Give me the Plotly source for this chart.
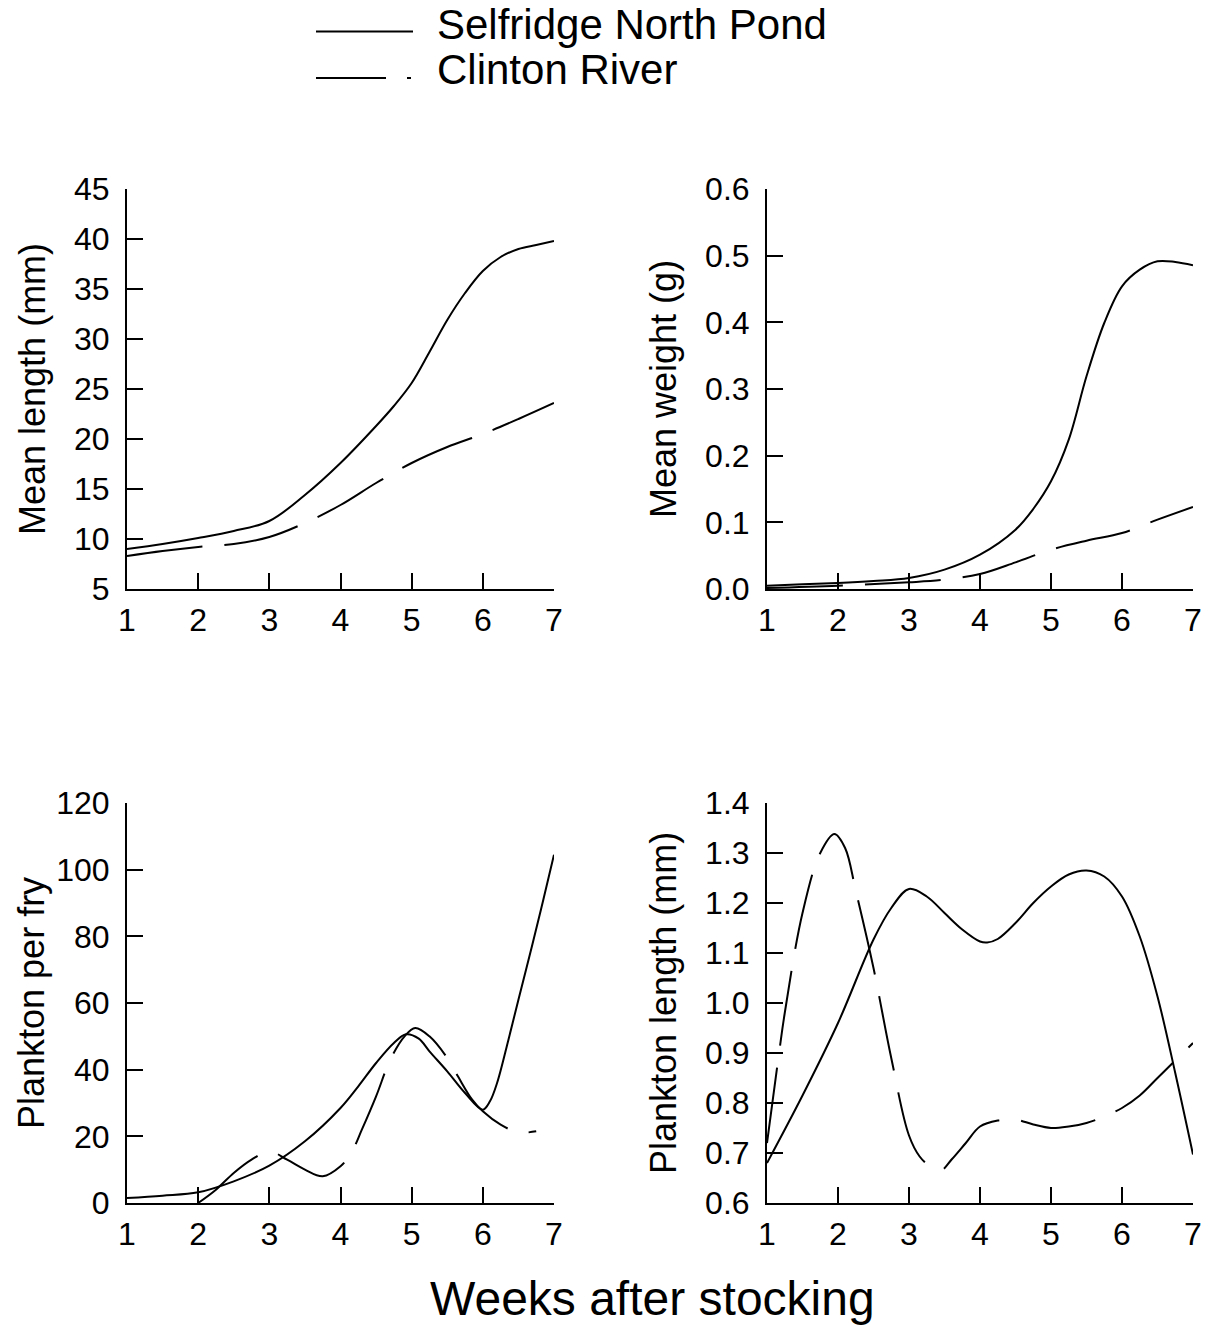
import plotly.graph_objects as go

W, H = 1207, 1325

# ---------------- data ----------------
len_weeks_sel = [1, 1.5, 2, 2.5, 3, 3.5, 4, 4.5, 4.75, 5, 5.25, 5.5, 5.75, 6, 6.25, 6.5, 6.75, 7]
len_sel = [9.0, 9.5, 10.1, 10.8, 11.8, 14.4, 17.6, 21.3, 23.3, 25.6, 28.7, 31.9, 34.6, 36.8,
           38.2, 39.0, 39.4, 39.8]
len_weeks_cli = [1, 1.5, 2, 2.5, 3, 3.5, 4, 4.5, 5, 5.5, 6, 6.5, 7]
len_cli = [8.3, 8.8, 9.2, 9.5, 10.2, 11.6, 13.4, 15.6, 17.6, 19.2, 20.5, 22.0, 23.6]

wt_weeks_sel = [1, 1.5, 2, 2.5, 3, 3.5, 4, 4.5, 4.75, 5, 5.25, 5.5, 5.75, 6, 6.25, 6.5, 6.75, 7]
wt_sel = [0.005, 0.007, 0.009, 0.012, 0.0165, 0.029, 0.0515, 0.089, 0.12, 0.1615, 0.224, 0.319,
          0.399, 0.454, 0.479, 0.4915, 0.4905, 0.4855]
wt_weeks_cli = [1, 2, 3, 3.5, 4, 4.5, 5, 5.5, 6, 6.5, 7]
wt_cli = [0.0015, 0.005, 0.01, 0.014, 0.0225, 0.04, 0.059, 0.0725, 0.084, 0.104, 0.123]

ppf_weeks_sel = [1, 1.5, 2, 2.5, 3, 3.5, 4, 4.25, 4.5, 4.75, 4.92, 5.1, 5.25, 5.5, 5.75,
                 6, 6.1, 6.2, 6.36, 6.5, 6.69, 6.85, 7]
ppf_sel = [1.5, 2.2, 3.2, 6.5, 11.2, 18.5, 28.5, 35, 42, 48, 50.6, 49.3, 45.5, 39.5, 33,
           28, 30.5, 36, 49, 61, 77, 91, 104.5]
ppf_weeks_cli = [2, 2.25, 2.5, 2.75, 3, 3.25, 3.5, 3.75, 4, 4.15, 4.3, 4.5, 4.7,
                 4.9, 5.05, 5.25, 5.5, 5.65, 5.85, 6, 6.25, 6.5, 6.75]
ppf_cli = [0, 4, 9, 13, 15.5, 13, 10, 8, 11, 15, 22, 32, 43,
           50, 52.5, 50, 43.5, 38, 31, 27.5, 23.5, 21.2, 21.5]

pl_weeks_sel = [1, 1.5, 2, 2.5, 2.75, 3, 3.25, 3.5, 3.75, 4, 4.1, 4.25, 4.5, 4.75, 5,
                5.25, 5.5, 5.75, 6, 6.25, 6.5, 6.75, 7]
pl_sel = [0.68, 0.815, 0.96, 1.127, 1.19, 1.228, 1.213, 1.18, 1.147, 1.123, 1.121, 1.128,
          1.16, 1.2, 1.233, 1.257, 1.265, 1.253, 1.213, 1.133, 1.013, 0.86, 0.697]
pl_weeks_cli = [1, 1.17, 1.25, 1.5, 1.75, 1.95, 2.1, 2.25, 2.5, 2.75, 3, 3.15, 3.3, 3.45,
                3.6, 3.8, 4, 4.25, 4.5, 4.75, 5, 5.25, 5.5, 5.75, 6, 6.25, 6.5, 6.75, 7]
pl_cli = [0.72, 0.9, 0.98, 1.18, 1.30, 1.338, 1.31, 1.225, 1.07, 0.89, 0.735, 0.693, 0.673,
          0.665, 0.687, 0.72, 0.753, 0.765, 0.767, 0.757, 0.75, 0.753, 0.76, 0.773, 0.79,
          0.815, 0.85, 0.885, 0.92]

y_titles = ["Mean length (mm)", "Mean weight (g)", "Plankton per fry", "Plankton length (mm)"]
x_title = "Weeks after stocking"
series_names = ["Selfridge North Pond", "Clinton River"]

# ---------------- figure ----------------
FONT = "Liberation Sans, Arial, sans-serif"
DASH = "76px,22px"

fig = go.Figure()

panels = [
    ("x", "y", len_weeks_sel, len_sel, len_weeks_cli, len_cli),
    ("x2", "y2", wt_weeks_sel, wt_sel, wt_weeks_cli, wt_cli),
    ("x3", "y3", ppf_weeks_sel, ppf_sel, ppf_weeks_cli, ppf_cli),
    ("x4", "y4", pl_weeks_sel, pl_sel, pl_weeks_cli, pl_cli),
]
for xa, ya, xs, ys, xc, yc in panels:
    fig.add_trace(go.Scatter(x=xs, y=ys, xaxis=xa, yaxis=ya, mode="lines",
                             line=dict(color="black", width=2, shape="spline", smoothing=1),
                             name=series_names[0], showlegend=False))
    fig.add_trace(go.Scatter(x=xc, y=yc, xaxis=xa, yaxis=ya, mode="lines",
                             line=dict(color="black", width=2, shape="spline", smoothing=1, dash=DASH),
                             name=series_names[1], showlegend=False))

def px_x(p):
    return p / W

def px_y(p):
    return 1 - p / H

dom_x_left = [px_x(127), px_x(554)]
dom_x_right = [px_x(767), px_x(1193)]
dom_y_top = [px_y(589), px_y(189)]
dom_y_bot = [px_y(1203), px_y(803)]

tickfont = dict(family=FONT, size=32, color="black")
common_x = dict(range=[1, 7], dtick=1, tick0=1, showline=True, linecolor="black", linewidth=2,
                ticks="inside", ticklen=16, tickwidth=2, tickcolor="black", showgrid=False,
                zeroline=False, tickfont=tickfont, fixedrange=True, automargin=False,
                ticklabelstandoff=2)
common_y = dict(showline=True, linecolor="black", linewidth=2, ticks="inside", ticklen=16,
                tickwidth=2, tickcolor="black", showgrid=False, zeroline=False,
                tickfont=tickfont, fixedrange=True, automargin=False, ticklabelstandoff=9)

fig.update_layout(
    width=W, height=H, margin=dict(l=0, r=0, t=0, b=0, pad=0, autoexpand=False),
    paper_bgcolor="white", plot_bgcolor="white", showlegend=False,
    font=dict(family=FONT, color="black"),
    xaxis=dict(domain=dom_x_left, anchor="y", **common_x),
    yaxis=dict(domain=dom_y_top, anchor="x", range=[5, 45], dtick=5, tick0=5, **common_y),
    xaxis2=dict(domain=dom_x_right, anchor="y2", **common_x),
    yaxis2=dict(domain=dom_y_top, anchor="x2", range=[0, 0.6], dtick=0.1, tick0=0,
                tickformat=".1f", **common_y),
    xaxis3=dict(domain=dom_x_left, anchor="y3", **common_x),
    yaxis3=dict(domain=dom_y_bot, anchor="x3", range=[0, 120], dtick=20, tick0=0, **common_y),
    xaxis4=dict(domain=dom_x_right, anchor="y4", **common_x),
    yaxis4=dict(domain=dom_y_bot, anchor="x4", range=[0.6, 1.4], dtick=0.1, tick0=0.6,
                tickformat=".1f", **common_y),
)

annotations = []
ytitle_pos = [(32, 389), (663, 389), (31, 1003), (663, 1003)]
for t, (cx, cy) in zip(y_titles, ytitle_pos):
    annotations.append(dict(text=t, x=px_x(cx), y=px_y(cy), xref="paper", yref="paper",
                            xanchor="center", yanchor="middle", textangle=-90, showarrow=False,
                            font=dict(family=FONT, size=36, color="black")))
annotations.append(dict(text=x_title, x=px_x(652), y=px_y(1298), xref="paper", yref="paper",
                        xanchor="center", yanchor="middle", showarrow=False,
                        font=dict(family=FONT, size=48, color="black")))
# legend text
annotations.append(dict(text=series_names[0], x=px_x(435), y=px_y(25), xref="paper", yref="paper",
                        xanchor="left", yanchor="middle", showarrow=False,
                        font=dict(family=FONT, size=42, color="black")))
annotations.append(dict(text=series_names[1], x=px_x(435), y=px_y(69), xref="paper", yref="paper",
                        xanchor="left", yanchor="middle", showarrow=False,
                        font=dict(family=FONT, size=42, color="black")))
fig.update_layout(annotations=annotations)

# legend sample lines
shapes = [
    dict(type="line", xref="paper", yref="paper", x0=px_x(316), x1=px_x(413),
         y0=px_y(31.5), y1=px_y(31.5), line=dict(color="black", width=2)),
    dict(type="line", xref="paper", yref="paper", x0=px_x(316), x1=px_x(386),
         y0=px_y(78), y1=px_y(78), line=dict(color="black", width=2)),
    dict(type="line", xref="paper", yref="paper", x0=px_x(407), x1=px_x(411),
         y0=px_y(78), y1=px_y(78), line=dict(color="black", width=2)),
]
fig.update_layout(shapes=shapes)

fig.write_html("out.html")
